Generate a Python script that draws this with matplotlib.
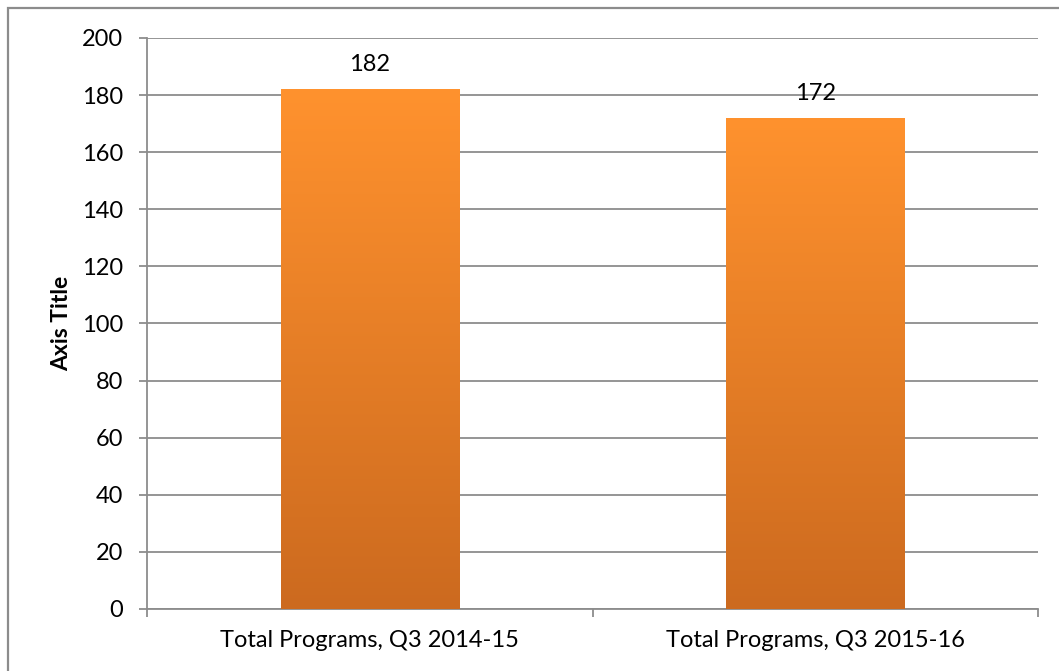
import numpy as np
import matplotlib.pyplot as plt
from matplotlib.colors import LinearSegmentedColormap
from matplotlib.patches import Rectangle

categories = ['Total Programs, Q3 2014-15', 'Total Programs, Q3 2015-16']
values = [182, 172]
y_ticks = [0, 20, 40, 60, 80, 100, 120, 140, 160, 180, 200]

plt.rcParams['font.family'] = ['Lato', 'DejaVu Sans']
GREY = '#8c8c8c'

fig = plt.figure(figsize=(10.59, 6.71), dpi=100)
ax = fig.add_axes([0.1388, 0.0924, 0.8414, 0.851])

# borde exterior del gráfico
fig.patches.append(Rectangle((8 / 1059, -0.1), 1.2, 1 - 8 / 671 + 0.1,
                             transform=fig.transFigure, fill=False,
                             edgecolor=GREY, linewidth=1.6))

x = np.arange(len(categories))
bars = ax.bar(x, values, width=0.4, color='none', zorder=3)

# degradado naranja en cada barra
cmap = LinearSegmentedColormap.from_list('naranja', ['#cc6a1f', '#ff922e'])
grad = np.linspace(0, 1, 256).reshape(-1, 1)
for b in bars:
    x0, y0 = b.get_x(), b.get_y()
    im = ax.imshow(grad, cmap=cmap, origin='lower', aspect='auto',
                   extent=[x0, x0 + b.get_width(), y0, y0 + b.get_height()],
                   zorder=3)
    im.set_clip_path(b)

for xi, v in zip(x, values):
    ax.annotate(str(v), (xi, v), xytext=(0, 10), textcoords='offset points',
                ha='center', va='bottom', fontsize=17)

ax.set_xlim(-0.5, len(categories) - 0.5)
ax.set_ylim(0, 200)
ax.set_yticks(y_ticks)
ax.set_xticks(x)
ax.set_xticklabels(categories)
ax.set_xticks(np.arange(len(categories) + 1) - 0.5, minor=True)
ax.tick_params(axis='x', which='major', length=0, pad=15, labelsize=17)
ax.tick_params(axis='x', which='minor', length=6, width=1.3, color=GREY)
ax.tick_params(axis='y', length=6, width=1.3, color=GREY, pad=11, labelsize=17)

ax.grid(axis='y', color=GREY, linewidth=1.3, zorder=0)
ax.set_axisbelow(True)
for s in ['top', 'right']:
    ax.spines[s].set_visible(False)
for s in ['left', 'bottom']:
    ax.spines[s].set_color(GREY)
    ax.spines[s].set_linewidth(1.3)

ax.set_ylabel('Axis Title', fontsize=16.5, fontweight='bold', labelpad=7)

fig.savefig('out.png', dpi=100)
